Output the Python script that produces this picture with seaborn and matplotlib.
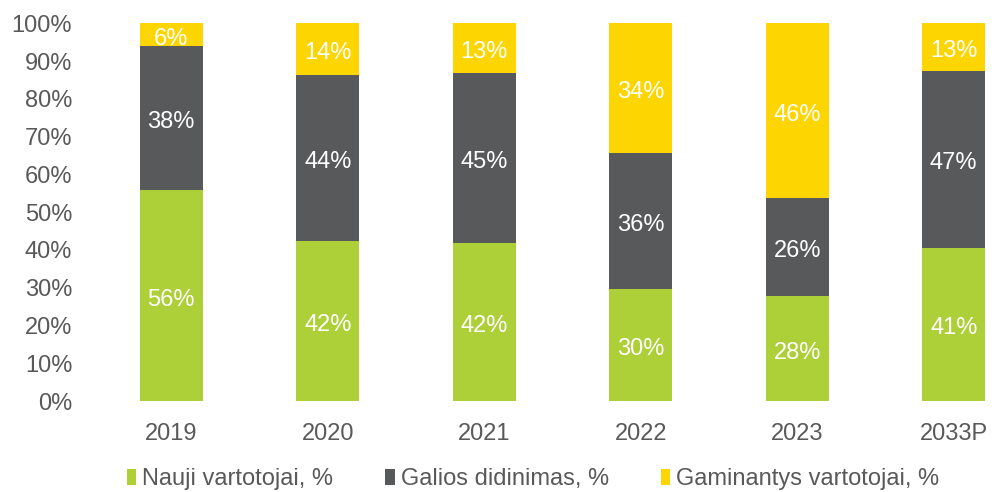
import numpy as np
import pandas as pd
import matplotlib
matplotlib.use("Agg")
import matplotlib.pyplot as plt
import seaborn as sns
from matplotlib.patches import Patch


# duomenys (nuskaityti nuo paveikslo)
metai = ["2019", "2020", "2021", "2022", "2023", "2033P"]
nauji_vartotojai = [55.9, 42.4, 41.8, 29.6, 27.8, 40.6]
galios_didinimas = [38.2, 43.9, 45.0, 36.0, 26.0, 46.8]
gaminantys_vartotojai = [5.9, 13.7, 13.2, 34.4, 46.2, 12.6]

serijos = ["Nauji vartotojai, %", "Galios didinimas, %", "Gaminantys vartotojai, %"]
spalvos = ["#ADCF37", "#58595B", "#FDD500"]

dados = pd.DataFrame(
    {
        "metai": metai,
        serijos[0]: nauji_vartotojai,
        serijos[1]: galios_didinimas,
        serijos[2]: gaminantys_vartotojai,
    }
)

sns.set_theme(style="white")
plt.rcParams["font.family"] = ["Liberation Sans", "DejaVu Sans"]

fig = plt.figure(figsize=(9.92, 4.92), dpi=100)
ax = fig.add_axes([93 / 992, 1 - 401 / 492, (1032 - 93) / 992, (401 - 23.3) / 492])

apacia = np.zeros(len(metai))
for serija, spalva in zip(serijos, spalvos):
    sns.barplot(
        data=dados, x="metai", y=serija, color=spalva, width=0.4,
        bottom=apacia, ax=ax, saturation=1, linewidth=0,
    )
    for i, v in enumerate(dados[serija]):
        ax.annotate(f"{v:.0f}%", (i, apacia[i] + v / 2), xytext=(0, -3),
                    textcoords="offset points", ha="center", va="center",
                    color="white", fontsize=17)
    apacia = apacia + dados[serija].to_numpy()

ax.set_xlim(-0.5, 5.5)
ax.set_ylim(0, 100)
ax.set_yticks(np.arange(0, 101, 10))
ax.set_yticklabels([f"{t}%" for t in range(0, 101, 10)])
ax.set_xlabel("")
ax.set_ylabel("")
ax.tick_params(axis="y", length=0, pad=15, labelsize=17, labelcolor="#595959")
ax.tick_params(axis="x", length=0, pad=16, labelsize=17, labelcolor="#595959")
sns.despine(ax=ax, left=True, bottom=True)

rankenos = [Patch(facecolor=c, edgecolor="none") for c in spalvos]
fig.legend(
    rankenos, serijos, loc="center", bbox_to_anchor=(533 / 992, 1 - 479 / 492),
    ncol=3, frameon=False, fontsize=17, labelcolor="#595959",
    handlelength=0.4, handleheight=0.65, handletextpad=0.25, columnspacing=2.2,
    borderpad=0,
)

fig.savefig("out.png", dpi=100)
